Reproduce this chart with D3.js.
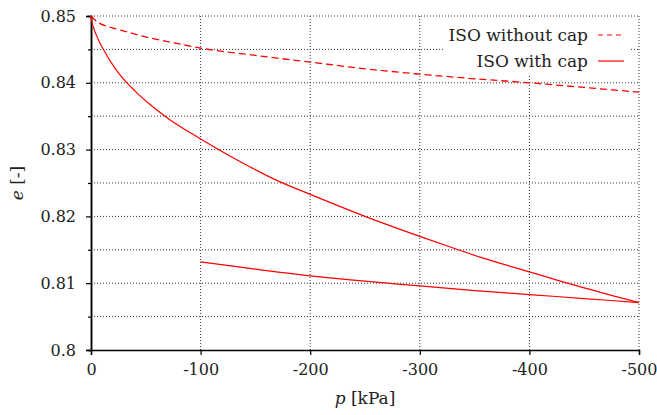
<!DOCTYPE html>
<html>
<head>
<meta charset="utf-8">
<script src="https://cdn.jsdelivr.net/npm/d3@7"></script>
<style>
  body { margin: 0; background: #fff; }
</style>
</head>
<body>
<div id="chart"></div>
<script>
// ISO without cap (dashed)
var pNoCap = [0, -3, -8, -18, -31, -49, -75, -100, -150, -200, -250, -300, -350, -400, -450, -500];
var eNoCap = [0.85, 0.8495, 0.8489, 0.8483, 0.8477, 0.8469, 0.8460, 0.8452, 0.8441, 0.8431, 0.8421, 0.8413, 0.8406, 0.8400, 0.8393, 0.8386];

// ISO with cap: loading branch
var pLoad = [0, -1, -2, -5, -8, -11, -17, -25, -40, -55, -70, -100, -135, -172, -200, -250, -300, -335, -355, -400, -450, -500];
var eLoad = [0.85, 0.8490, 0.8484, 0.8471, 0.8460, 0.8451, 0.8434, 0.8415, 0.8388, 0.8366, 0.8347, 0.8316, 0.8283, 0.8252, 0.8233, 0.8200, 0.8170, 0.8150, 0.8139, 0.8117, 0.8093, 0.8071];

// ISO with cap: unloading branch
var pUnload = [-100, -150, -200, -250, -300, -350, -400, -450, -500];
var eUnload = [0.8132, 0.8121, 0.8111, 0.8103, 0.8096, 0.8089, 0.8083, 0.8077, 0.8071];

var xTicks = [0, -100, -200, -300, -400, -500];
var yTicks = [0.8, 0.81, 0.82, 0.83, 0.84, 0.85];
var yMinor = [0.805, 0.815, 0.825, 0.835, 0.845];

var serif = "'DejaVu Serif', serif";

var width = 657,
    height = 415,
    margin = {left: 91, right: 18, top: 16, bottom: 65};

var svg = d3.select("#chart").append("svg")
    .attr("width", width)
    .attr("height", height)
    .style("font-family", serif);

var x = d3.scaleLinear().domain([0, -500]).range([margin.left, width - margin.right]);
var y = d3.scaleLinear().domain([0.8, 0.85]).range([height - margin.bottom, margin.top]);

var grid = svg.append("g")
    .attr("stroke", "#333")
    .attr("stroke-width", 1)
    .attr("stroke-dasharray", "1,2");

grid.selectAll("line.gx").data(xTicks.slice(1)).enter().append("line")
    .attr("x1", function (d) { return x(d); })
    .attr("x2", function (d) { return x(d); })
    .attr("y1", y(0.8))
    .attr("y2", y(0.85));

grid.selectAll("line.gy").data(yTicks.slice(1).concat(yMinor)).enter().append("line")
    .attr("x1", x(0))
    .attr("x2", x(-500))
    .attr("y1", function (d) { return y(d); })
    .attr("y2", function (d) { return y(d); });

// axes
var yAxis = svg.append("g")
    .attr("transform", "translate(" + x(0) + ",0)")
    .call(d3.axisLeft(y).tickValues(yTicks).tickSize(5).tickPadding(10)
        .tickFormat(function (d) { return String(+d.toFixed(2)); }));
yAxis.append("g").call(d3.axisLeft(y).tickValues(yMinor).tickSize(3).tickFormat(""));

var xAxis = svg.append("g")
    .attr("transform", "translate(0," + y(0.8) + ")")
    .call(d3.axisBottom(x).tickValues(xTicks).tickSize(5).tickPadding(9)
        .tickFormat(function (d) { return String(d); }));

svg.selectAll(".domain").attr("stroke", "#000").attr("stroke-width", 1.5);
svg.selectAll(".tick line").attr("stroke", "#000").attr("stroke-width", 1.2);
svg.selectAll(".tick text")
    .style("font-family", serif)
    .style("font-size", "16px")
    .attr("fill", "#222");

// curves
var line = d3.line()
    .x(function (d) { return x(d[0]); })
    .y(function (d) { return y(d[1]); })
    .curve(d3.curveMonotoneX);

svg.append("path")
    .datum(d3.zip(pNoCap, eNoCap))
    .attr("fill", "none")
    .attr("stroke", "#ff0000")
    .attr("stroke-width", 1.3)
    .attr("stroke-dasharray", "7,4")
    .attr("d", line);

[d3.zip(pLoad, eLoad), d3.zip(pUnload, eUnload)].forEach(function (seg) {
  svg.append("path")
      .datum(seg)
      .attr("fill", "none")
      .attr("stroke", "#ff0000")
      .attr("stroke-width", 1.2)
      .attr("d", line);
});

// legend
var legend = svg.append("g");
legend.append("rect")
    .attr("x", 445).attr("y", 18)
    .attr("width", 186).attr("height", 58)
    .attr("fill", "#fff");

var legendItems = [
  {label: "ISO without cap", dash: "5,4", yy: 35},
  {label: "ISO with cap", dash: null, yy: 61}
];
legendItems.forEach(function (it) {
  legend.append("text")
      .attr("x", 588).attr("y", it.yy + 6)
      .attr("text-anchor", "end")
      .style("font-family", serif)
      .style("font-size", "17px")
      .attr("fill", "#222")
      .text(it.label);
  legend.append("line")
      .attr("x1", 598).attr("x2", 624)
      .attr("y1", it.yy).attr("y2", it.yy)
      .attr("stroke", "#ff0000")
      .attr("stroke-width", 1.2)
      .attr("stroke-dasharray", it.dash);
});

// axis titles
var xt = svg.append("text")
    .attr("x", (x(0) + x(-500)) / 2).attr("y", 404)
    .attr("text-anchor", "middle")
    .style("font-family", serif)
    .style("font-size", "17px")
    .attr("fill", "#222");
xt.append("tspan").attr("font-style", "italic").text("p");
xt.append("tspan").text(" [kPa]");

var yt = svg.append("text")
    .attr("transform", "translate(23," + ((y(0.8) + y(0.85)) / 2) + ") rotate(-90)")
    .attr("text-anchor", "middle")
    .style("font-family", serif)
    .style("font-size", "17px")
    .attr("fill", "#222");
yt.append("tspan").attr("font-style", "italic").text("e");
yt.append("tspan").text(" [-]");
</script>
</body>
</html>
